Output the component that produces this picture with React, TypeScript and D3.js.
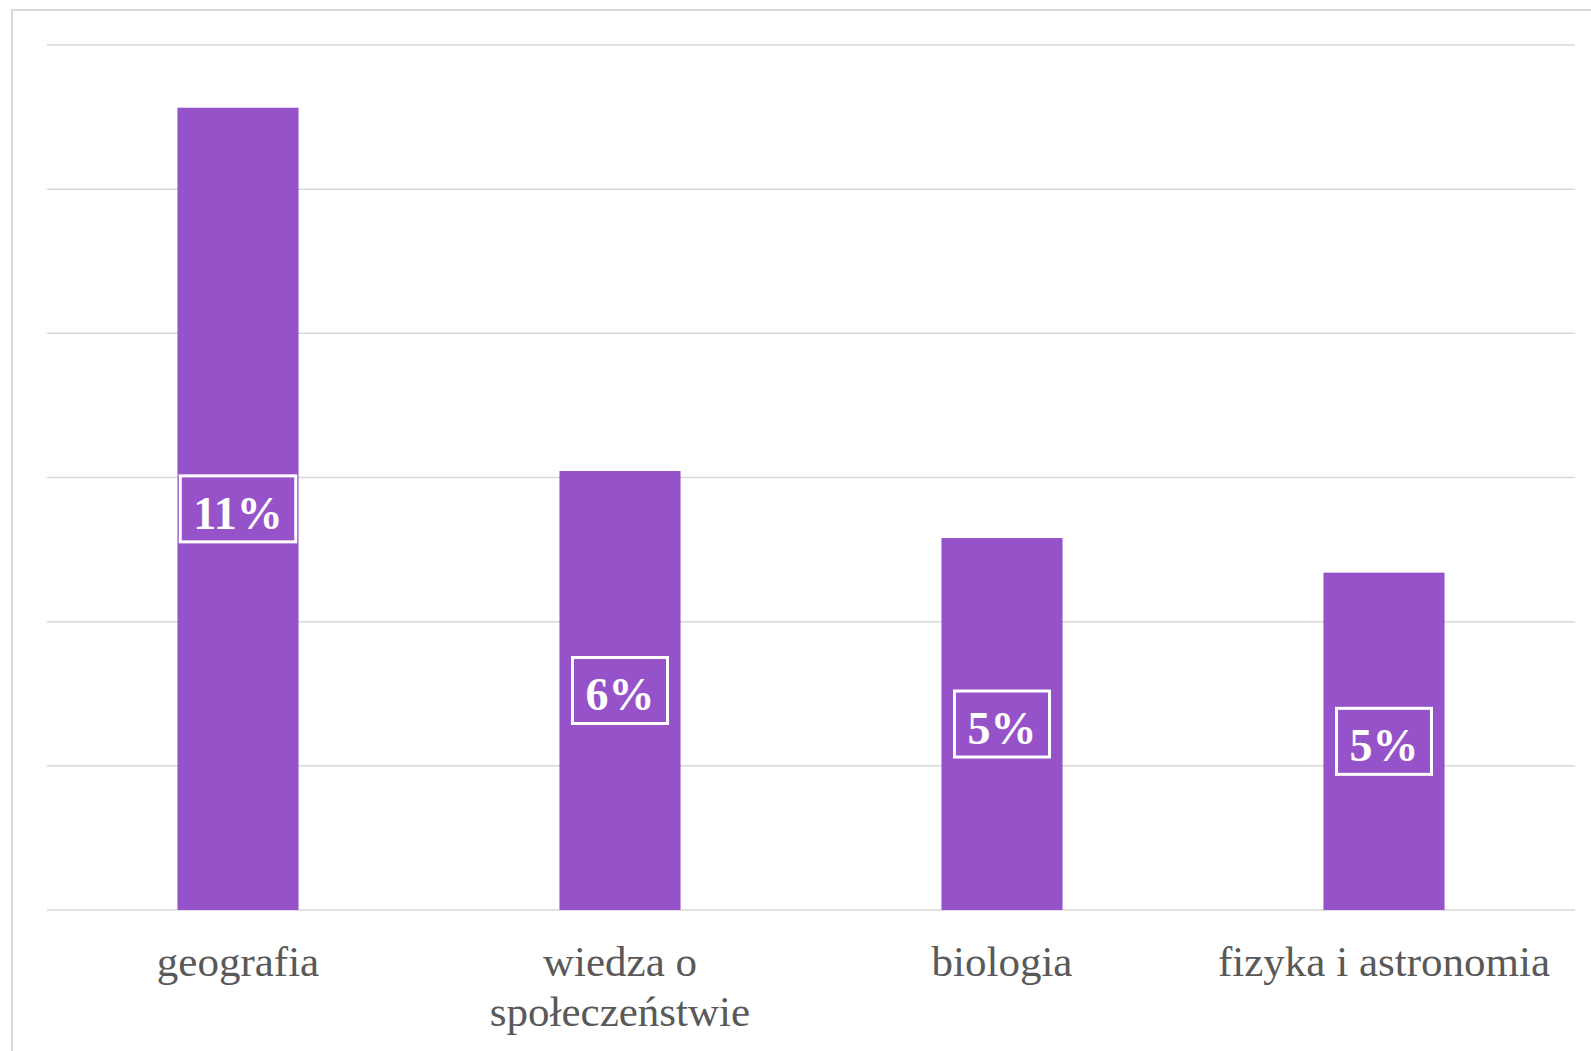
import { useEffect, useRef } from "react";
import * as d3 from "d3";

const categories = ["geografia", "wiedza o społeczeństwie", "biologia", "fizyka i astronomia"];
const shares = [0.1113, 0.0609, 0.0516, 0.0468];
const yTicks = [0, 0.02, 0.04, 0.06, 0.08, 0.1, 0.12];

function App() {
  const svgRef = useRef<SVGSVGElement | null>(null);

  useEffect(() => {
    const width = 1591;
    const height = 1051;
    const margin = { top: 45, right: 16, bottom: 141, left: 47 };

    const svg = d3.select(svgRef.current).attr("width", width).attr("height", height);
    svg.selectAll("*").remove();

    // chart area frame (cut off at right / bottom like the original)
    svg.append("rect")
      .attr("x", 12)
      .attr("y", 10)
      .attr("width", width + 20)
      .attr("height", height + 20)
      .attr("fill", "#fff")
      .attr("stroke", "#d9d9d9")
      .attr("stroke-width", 2);

    const x = d3.scaleBand<string>()
      .domain(categories)
      .range([margin.left, width - margin.right])
      .paddingInner(0.683)
      .paddingOuter(0.3415);

    const y = d3.scaleLinear()
      .domain([0, 0.12])
      .range([height - margin.bottom, margin.top]);

    // gridlines
    svg.append("g")
      .selectAll("line")
      .data(yTicks)
      .enter()
      .append("line")
      .attr("x1", margin.left)
      .attr("x2", width - margin.right)
      .attr("y1", d => y(d))
      .attr("y2", d => y(d))
      .attr("stroke", "#d9d9d9")
      .attr("stroke-width", 1.5);

    const data = categories.map((c, i) => ({ cat: c, value: shares[i] }));

    svg.append("g")
      .selectAll("rect")
      .data(data)
      .enter()
      .append("rect")
      .attr("x", d => x(d.cat)!)
      .attr("y", d => y(d.value))
      .attr("width", x.bandwidth())
      .attr("height", d => y(0) - y(d.value))
      .attr("fill", "#9653c9");

    // value labels in boxes
    const fmt = d3.format(".0%");
    const labels = svg.append("g")
      .selectAll("g")
      .data(data)
      .enter()
      .append("g")
      .attr("transform", d => `translate(${x(d.cat)! + x.bandwidth() / 2},${(y(d.value) + y(0)) / 2})`);

    labels.append("text")
      .attr("text-anchor", "middle")
      .attr("dy", "0.43em")
      .attr("fill", "#fff")
      .style("font-family", "'Liberation Serif', 'Times New Roman', serif")
      .style("font-weight", "bold")
      .style("font-size", "46px")
      .text(d => fmt(d.value));

    labels.each(function () {
      const g = d3.select(this);
      const t = g.select<SVGTextElement>("text").node()!;
      const w = t.getComputedTextLength();
      g.insert("rect", "text")
        .attr("x", -w / 2 - 13)
        .attr("y", -33)
        .attr("width", w + 26)
        .attr("height", 66)
        .attr("fill", "none")
        .attr("stroke", "#fff")
        .attr("stroke-width", 3);
    });

    // category labels, wrapped to band width
    const catText = svg.append("g")
      .selectAll("text")
      .data(categories)
      .enter()
      .append("text")
      .attr("x", d => x(d)! + x.bandwidth() / 2)
      .attr("y", 976)
      .attr("text-anchor", "middle")
      .attr("fill", "#595959")
      .style("font-family", "'Liberation Serif', 'Times New Roman', serif")
      .style("font-size", "43px");

    const maxW = x.step();
    catText.each(function (d) {
      const el = d3.select(this);
      const words = d.split(" ");
      let line: string[] = [];
      let tspan = el.append("tspan").attr("x", x(d)! + x.bandwidth() / 2).attr("dy", 0);
      for (const w of words) {
        line.push(w);
        tspan.text(line.join(" "));
        if ((tspan.node() as SVGTSpanElement).getComputedTextLength() > maxW - 10 && line.length > 1) {
          line.pop();
          tspan.text(line.join(" "));
          line = [w];
          tspan = el.append("tspan").attr("x", x(d)! + x.bandwidth() / 2).attr("dy", 50).text(w);
        }
      }
    });
  }, []);

  return (
    <svg ref={svgRef} style={{ position: "absolute", left: 0, top: 0, display: "block" }} />
  );
}

export default App;
